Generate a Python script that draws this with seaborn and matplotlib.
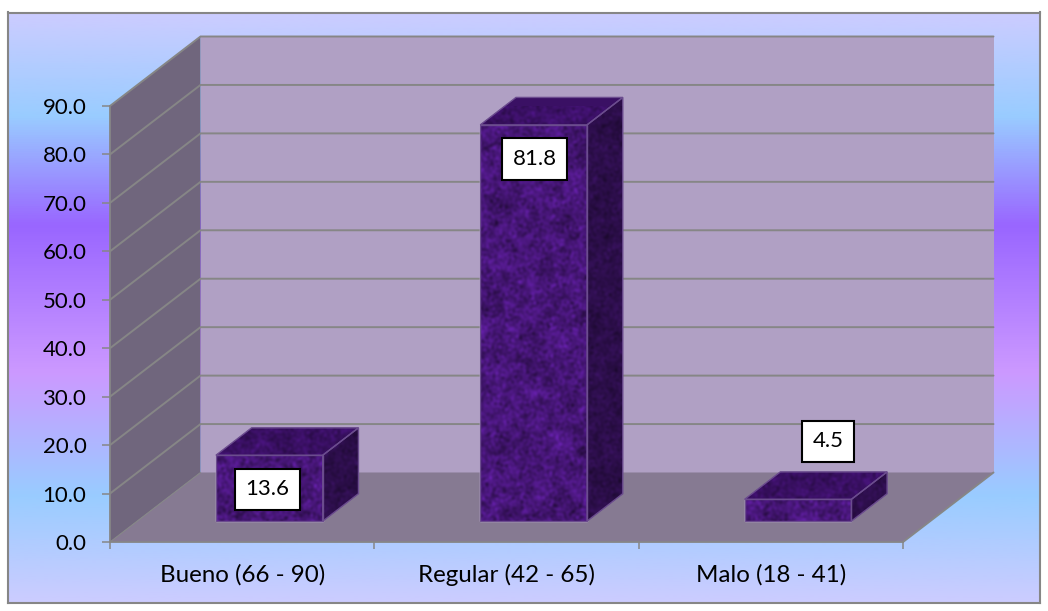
import numpy as np
import matplotlib
matplotlib.use("Agg")
import matplotlib.pyplot as plt
from matplotlib.colors import LinearSegmentedColormap
from matplotlib.patches import Polygon, Rectangle
import seaborn as sns

# ---- data ----
categories = ["Bueno (66 - 90)", "Regular (42 - 65)", "Malo (18 - 41)"]
values = [13.6, 81.8, 4.5]
value_labels = ["13.6", "81.8", "4.5"]
y_ticks = [0, 10, 20, 30, 40, 50, 60, 70, 80, 90]

# ---- styling ----
W, H = 1048, 611
GRAY = "#868686"
WALL = "#B0A0C4"
SIDE = "#70667D"
FLOOR = "#867A92"
EDGE = "#6B4C8E"
FRONT_RGB = np.array([70, 22, 118]) / 255
TOP_RGB = np.array([58, 16, 100]) / 255
RIGHT_RGB = np.array([44, 14, 74]) / 255
grad_stops = [(0.0, "#CCCCFF"), (0.175, "#99CCFF"), (0.36, "#9966FF"),
              (0.61, "#CC99FF"), (0.82, "#99CCFF"), (1.0, "#CCCCFF")]
label_offsets = [(-2, -34), (1, -34), (30, 58)]

sns.set_theme(style="white")
plt.rcParams["font.family"] = ["Lato", "DejaVu Sans"]

fig = plt.figure(figsize=(W / 100, H / 100), dpi=100, facecolor="white")

# chart area with its vertical gradient
L, T, R, B = 8, 12.5, 1040, 603
bg = fig.add_axes([L / W, 1 - B / H, (R - L) / W, (B - T) / H], zorder=0)
cmap_bg = LinearSegmentedColormap.from_list("calm", grad_stops)
bg.imshow(np.linspace(0, 1, 600)[:, None], aspect="auto", cmap=cmap_bg, vmin=0, vmax=1)
bg.set_xticks([]); bg.set_yticks([])
for s in bg.spines.values():
    s.set_color(GRAY); s.set_linewidth(1.5)

# main axes
AX_L, AX_R, AX_T, AX_B = 110, 903, 106, 542
ax = fig.add_axes([AX_L / W, 1 - AX_B / H, (AX_R - AX_L) / W, (AX_B - AX_T) / H], zorder=1)
ax.patch.set_alpha(0)

sns.barplot(x=categories, y=values, ax=ax, width=0.404, color="#461676",
            saturation=1, zorder=5)
xmin, xmax, ymin, ymax = -0.5, 2.5, 0, 90
ax.set_xlim(xmin, xmax)
ax.set_ylim(ymin, ymax)

DX = 90.5 / ((AX_R - AX_L) / 3)
DY = 69.5 / ((AX_B - AX_T) / 90)


def P(x, y, d):
    return (x + DX * d, y + DY * d)


def poly(pts, **kw):
    p = Polygon(pts, closed=True, clip_on=False, **kw)
    ax.add_patch(p)
    return p


# walls and floor
poly([P(xmin, ymin, 0), P(xmin, ymax, 0), P(xmin, ymax, 1), P(xmin, ymin, 1)],
     facecolor=SIDE, edgecolor="none", zorder=1)
poly([P(xmin, ymin, 1), P(xmin, ymax, 1), P(xmax, ymax, 1), P(xmax, ymin, 1)],
     facecolor=WALL, edgecolor="none", zorder=1)
poly([P(xmin, ymin, 0), P(xmin, ymin, 1), P(xmax, ymin, 1), P(xmax, ymin, 0)],
     facecolor=FLOOR, edgecolor="none", zorder=1.5)

# gridlines across side wall and back wall
for v in y_ticks[1:]:
    a, b, c = P(xmin, v, 0), P(xmin, v, 1), P(xmax, v, 1)
    ax.plot([a[0], b[0], c[0]], [a[1], b[1], c[1]], color=GRAY, lw=1.4,
            clip_on=False, zorder=2, solid_joinstyle="miter")
a, b = P(xmax, ymin, 0), P(xmax, ymin, 1)
ax.plot([a[0], b[0]], [a[1], b[1]], color=GRAY, lw=1.4, clip_on=False, zorder=2)
a, b = P(xmin, ymin, 0), P(xmin, ymin, 1)
ax.plot([a[0], b[0]], [a[1], b[1]], color=GRAY, lw=0.8, clip_on=False, zorder=2)


def texture(nx, ny, phase):
    """Cloudy mottled surface: many plane waves with golden-angle directions."""
    yy, xx = np.mgrid[0:ny, 0:nx].astype(float)
    t = np.zeros_like(xx)
    for k in range(1, 120):
        th = k * 2.39996
        f = 0.06 + 0.012 * k
        amp = 1.0 / (1 + 0.015 * k)
        t += amp * np.sin(f * (xx * np.cos(th) + yy * np.sin(th)) + phase * k * 1.618 + k * k * 0.37)
    return t / t.std()


FRONT, BACK = 0.30, 0.695
bars = [p for p in ax.patches if isinstance(p, Rectangle)]
for i, (bar, val) in enumerate(zip(bars, values)):
    x0, x1 = bar.get_x(), bar.get_x() + bar.get_width()
    # move the seaborn bar to the front plane of the 3-D box
    fx, fy = P(x0, 0, FRONT)
    bar.set_x(fx)
    bar.set_y(fy)
    bar.set_clip_on(False)
    xa, xb = fx, fx + (x1 - x0)
    ytop = fy + val
    top_pts = [P(x0, val, FRONT), P(x0, val, BACK), P(x1, val, BACK), P(x1, val, FRONT)]
    right_pts = [P(x1, 0, FRONT), P(x1, val, FRONT), P(x1, val, BACK), P(x1, 0, BACK)]
    for pts, rgb, ph, z in [(top_pts, TOP_RGB, 1.1 + i, 5),
                            (right_pts, RIGHT_RGB, 2.3 + i, 5)]:
        face = poly(pts, facecolor=rgb, edgecolor="none", zorder=z)
        px = np.array(pts)
        pw = int((px[:, 0].max() - px[:, 0].min()) * 264) + 2
        ph_px = int((px[:, 1].max() - px[:, 1].min()) * 4.84) + 2
        tex = texture(pw, ph_px, ph)
        img = np.clip(rgb[None, None, :] * (1 + 0.09 * tex[:, :, None]), 0, 1)
        im = ax.imshow(img, extent=(px[:, 0].min(), px[:, 0].max(), px[:, 1].min(), px[:, 1].max()),
                       aspect="auto", zorder=z + 0.1, interpolation="bilinear")
        im.set_clip_path(face)
        poly(pts, facecolor="none", edgecolor=EDGE, linewidth=1.0, zorder=z + 0.2)
    nx = 108
    ny = max(int(val * 4.84), 12)
    tex = texture(nx, ny, 0.4 + i)
    img = np.clip(FRONT_RGB[None, None, :] * (1 + 0.12 * tex[:, :, None]), 0, 1)
    im = ax.imshow(img, extent=(xa, xb, fy, ytop), aspect="auto", zorder=5.1,
                   interpolation="bilinear")
    im.set_clip_path(bar)
    poly([(xa, fy), (xa, ytop), (xb, ytop), (xb, fy)], facecolor="none",
         edgecolor=EDGE, linewidth=1.0, zorder=5.2)
    # value label
    cx = xa + (xb - xa) / 2
    ax.annotate(value_labels[i], xy=(cx, ytop), xytext=label_offsets[i],
                textcoords="offset pixels", ha="center", va="center",
                fontsize=16, color="black", zorder=8, annotation_clip=False,
                bbox=dict(boxstyle="square,pad=0.48", facecolor="white",
                          edgecolor="black", linewidth=1.5))

ax.set_xlim(xmin, xmax)
ax.set_ylim(ymin, ymax)

# axes decoration
for s in ("top", "right"):
    ax.spines[s].set_visible(False)
for s in ("left", "bottom"):
    ax.spines[s].set_color(GRAY)
    ax.spines[s].set_linewidth(1.3)
    ax.spines[s].set_zorder(3)
ax.set_yticks(y_ticks, labels=[f"{v:.1f}" for v in y_ticks])
ax.set_xticks([-0.5, 0.5, 1.5, 2.5], labels=[])
ax.set_xticks([0, 1, 2], labels=categories, minor=True)
ax.tick_params(axis="y", which="major", length=6, width=1.1, color=GRAY, pad=11,
               labelsize=16, labelcolor="black", left=True)
ax.tick_params(axis="x", which="major", length=5, width=1.1, color=GRAY, bottom=True)
ax.tick_params(axis="x", which="minor", length=0, pad=16, labelsize=17.4,
               labelcolor="black", bottom=False)
ax.set_xlabel("")
ax.set_ylabel("")

fig.savefig("out.png", dpi=100, facecolor="white")
